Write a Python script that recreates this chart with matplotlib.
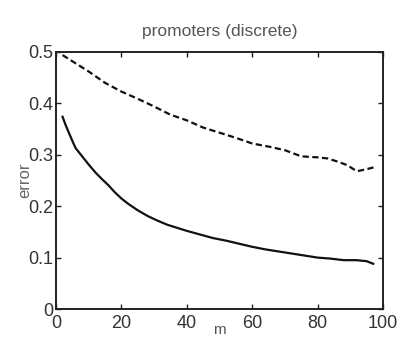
import matplotlib
matplotlib.use("Agg")
import matplotlib.pyplot as plt

# data
m_dashed = [2, 6, 10, 15, 20, 25, 30, 35, 40, 45, 50, 55, 60, 65, 70, 75, 80, 83, 86, 89, 92, 95, 98]
err_dashed = [0.494, 0.478, 0.462, 0.440, 0.423, 0.409, 0.394, 0.378, 0.367, 0.353, 0.343,
              0.333, 0.322, 0.316, 0.309, 0.297, 0.295, 0.293, 0.287, 0.280, 0.268, 0.272, 0.277]

m_solid = [2, 3, 4, 5, 6, 8, 10, 12, 14, 16, 18, 20, 22, 25, 28, 31, 34, 37, 40, 44, 48,
           52, 56, 60, 64, 68, 72, 76, 80, 84, 88, 92, 95, 97]
err_solid = [0.374, 0.357, 0.342, 0.327, 0.313, 0.297, 0.281, 0.266, 0.253, 0.241, 0.227,
             0.215, 0.205, 0.192, 0.181, 0.172, 0.164, 0.158, 0.152, 0.145, 0.138, 0.133,
             0.127, 0.121, 0.116, 0.112, 0.108, 0.104, 0.100, 0.098, 0.095, 0.095, 0.093, 0.088]

x_ticks = [0, 20, 40, 60, 80, 100]
y_ticks = [0, 0.1, 0.2, 0.3, 0.4, 0.5]
y_tick_labels = ["0", "0.1", "0.2", "0.3", "0.4", "0.5"]

plt.rcParams['font.family'] = ['Liberation Sans', 'DejaVu Sans']
plt.rcParams['lines.scale_dashes'] = False

fig = plt.figure(figsize=(4.01, 3.39), dpi=100)
ax = fig.add_axes([56 / 401, 30 / 339, 327 / 401, 257 / 339])

ax.plot(m_dashed, err_dashed, color='#111111', lw=1.6, linestyle=(0, (4.5, 2.5)))
ax.plot(m_solid, err_solid, color='#111111', lw=1.6)

ax.set_xlim(0, 100)
ax.set_ylim(0, 0.5)
ax.set_xticks(x_ticks)
ax.set_yticks(y_ticks)
ax.set_yticklabels(y_tick_labels)

ax.tick_params(direction='in', top=True, right=True, length=3.5, width=1.0,
               labelsize=13, labelcolor='#333333', color='#222222')
ax.tick_params(axis='y', pad=2)
ax.tick_params(axis='x', pad=4)
for s in ax.spines.values():
    s.set_linewidth(1.4)
    s.set_color('#222222')

ax.set_title("promoters (discrete)", fontsize=12.5, color='#555555', pad=11.5)
ax.set_ylabel("error", fontsize=12, color='#666666', labelpad=-3)
ax.set_xlabel("m", fontsize=11, color='#555555', labelpad=-6)

fig.savefig("out.png", dpi=100)
